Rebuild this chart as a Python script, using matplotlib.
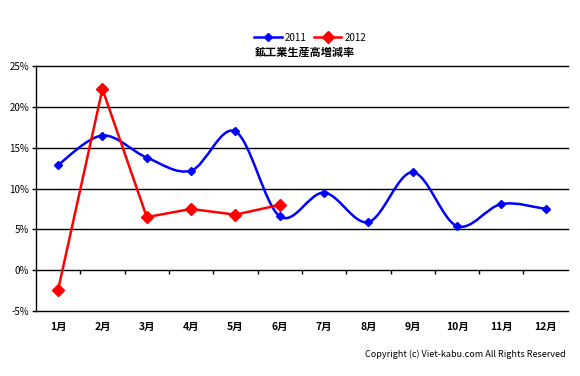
import numpy as np
import matplotlib.pyplot as plt
from matplotlib.path import Path
from matplotlib.patches import PathPatch
from matplotlib.lines import Line2D

plt.rcParams['font.family'] = ['Noto Sans CJK JP', 'DejaVu Sans']

months = ["1月", "2月", "3月", "4月", "5月", "6月",
          "7月", "8月", "9月", "10月", "11月", "12月"]
y2011 = [12.9, 16.5, 13.8, 12.2, 17.0, 6.6, 9.5, 5.9, 12.0, 5.4, 8.1, 7.5]
y2012 = [-2.4, 22.2, 6.5, 7.5, 6.8, 8.0]
yticks = [-5, 0, 5, 10, 15, 20, 25]


def smooth_path(xs, ys):
    # Excel-style smoothed line: cubic Bezier segments (Catmull-Rom control points)
    pts = np.column_stack([xs, ys]).astype(float)
    n = len(pts)
    verts = [pts[0]]
    codes = [Path.MOVETO]
    for i in range(n - 1):
        p0 = pts[i - 1] if i > 0 else pts[i]
        p1, p2 = pts[i], pts[i + 1]
        p3 = pts[i + 2] if i + 2 < n else pts[i + 1]
        c1 = p1 + (p2 - p0) / 6.0
        c2 = p2 - (p3 - p1) / 6.0
        verts += [c1, c2, p2]
        codes += [Path.CURVE4] * 3
    return Path(verts, codes)


fig = plt.figure(figsize=(5.8, 3.76), dpi=100)
ax = fig.add_axes([0.062, 0.173, 0.917, 0.651])

x11 = np.arange(len(y2011))
x12 = np.arange(len(y2012))

ax.add_patch(PathPatch(smooth_path(x11, y2011), facecolor="none",
                       edgecolor="#0000ff", lw=1.8, zorder=3))
ax.plot(x11, y2011, ls="none", marker="D", ms=4, color="#0000ff", zorder=4)
ax.plot(x12, y2012, color="#ff0000", lw=1.8, marker="D", ms=6.5, zorder=5)

ax.set_xlim(-0.5, 11.5)
ax.set_ylim(-5, 25)
ax.set_yticks(yticks)
ax.set_yticklabels([f"{v}%" for v in yticks], fontsize=7)
ax.yaxis.grid(True, color="black", lw=1)
for gl in ax.get_ygridlines():
    gl.set_clip_on(False)
ax.set_axisbelow(True)
ax.tick_params(axis="y", length=3, width=1, pad=2)

ax.set_xticks(x11)
ax.set_xticklabels(months, fontsize=7.5, fontweight="bold")
ax.tick_params(axis="x", length=0, pad=8)

for s in ["top", "right", "bottom"]:
    ax.spines[s].set_visible(False)
ax.spines["left"].set_linewidth(1)

# category axis crossing at 0%: tick marks between months
sec = ax.secondary_xaxis(5 / 30)
sec.set_xticks(np.arange(0.5, 11.5, 1))
sec.set_xticklabels([])
sec.tick_params(length=3, width=1, direction="out")
sec.spines["bottom"].set_visible(False)

handles = [Line2D([], [], color="#0000ff", lw=1.8, marker="D", ms=4),
           Line2D([], [], color="#ff0000", lw=1.8, marker="D", ms=6.5)]
fig.legend(handles, ["2011", "2012"], loc="center", bbox_to_anchor=(0.535, 0.9),
           ncol=2, frameon=False, fontsize=7, handlelength=2.8,
           columnspacing=0.8, handletextpad=0.3)
fig.text(0.525, 0.862, "鉱工業生産高増減率", ha="center", va="center",
         fontsize=8, fontweight="bold")
fig.text(0.975, 0.058, "Copyright (c) Viet-kabu.com All Rights Reserved",
         ha="right", va="center", fontsize=6.5)

fig.savefig("out.png", dpi=100)
